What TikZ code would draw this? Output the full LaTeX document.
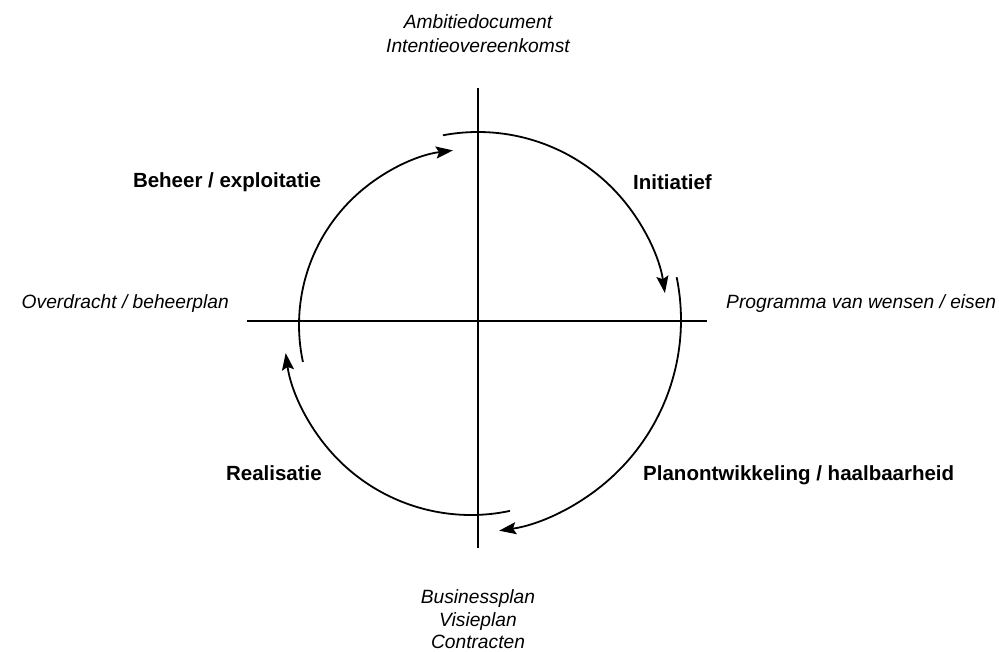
\documentclass[tikz,border=0pt]{standalone}
\usepackage{fontspec}
\setmainfont{Liberation Sans}
\usetikzlibrary{arrows.meta}

\begin{document}
\begin{tikzpicture}[x=1pt,y=1pt,
    axis/.style={line width=1.8pt},
    cycle/.style={line width=1.8pt,-{Stealth[length=17pt,width=12pt,inset=3pt]}},
    phase/.style={font=\fontsize{20.5}{24}\selectfont\bfseries,inner sep=0pt},
    result/.style={font=\fontsize{19.2}{23}\selectfont\itshape,inner sep=0pt}]
  \useasboundingbox (0,0) rectangle (999,651);

  % axes
  \coordinate (ntop) at (478,563);
  \coordinate (nbot) at (478,103);
  \coordinate (wleft) at (247,330);
  \coordinate (eright) at (707,330);
  \draw[axis] (ntop) -- (nbot);
  \draw[axis] (wleft) -- (eright);

  % cycle arcs, one per phase
  \coordinate (c1) at (478,330);
  \coordinate (c2) at (468,331);
  \coordinate (c3) at (471,323);
  \coordinate (c4) at (475,326);
  \draw[cycle] (c1) ++(100.7:189) arc[start angle=100.7,end angle=8.5,radius=189];
  \draw[cycle] (c2) ++(11.6:213) arc[start angle=11.6,end angle=-81.6,radius=213];
  \draw[cycle] (c3) ++(-78:187) arc[start angle=-78,end angle=-172.3,radius=187];
  \draw[cycle] (c4) ++(192.1:176) arc[start angle=192.1,end angle=97.2,radius=176];

  % phases
  \node[phase,anchor=base] (beheer) at (227,463) {Beheer / exploitatie};
  \node[phase,anchor=base west] (init) at (633,461) {Initiatief};
  \node[phase,anchor=base west] (plan) at (643,170) {Planontwikkeling / haalbaarheid};
  \node[phase,anchor=base east] (real) at (322,170) {Realisatie};

  % results between phases
  \node[result,anchor=base] (amb) at (478,622) {Ambitiedocument};
  \node[result,anchor=base] (intent) at (478,598.5) {Intentieovereenkomst};
  \node[result,anchor=base west] (pve) at (726,342) {Programma van wensen / eisen};
  \node[result,anchor=base east] (over) at (229,342) {Overdracht / beheerplan};
  \node[result,anchor=base] (bus) at (478,47.5) {Businessplan};
  \node[result,anchor=base] (vis) at (478,25) {Visieplan};
  \node[result,anchor=base] (con) at (478,2.5) {Contracten};
\end{tikzpicture}
\end{document}
